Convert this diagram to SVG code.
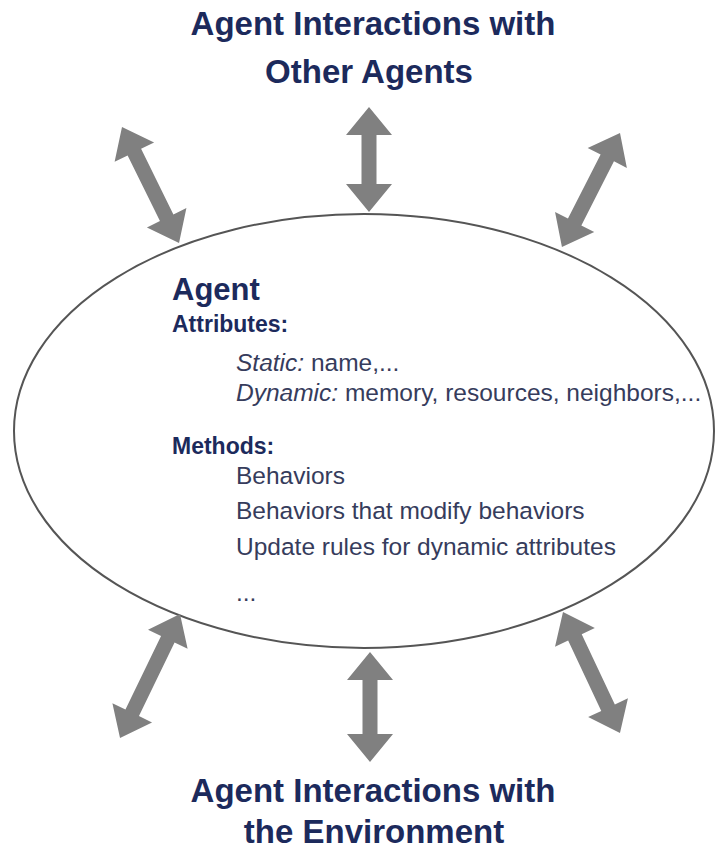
<svg xmlns="http://www.w3.org/2000/svg" width="715" height="852" viewBox="0 0 715 852">
<style>
.title{font-family:"Liberation Sans",Arial,sans-serif;font-weight:bold;font-size:33px;fill:#1c2a5c;text-anchor:middle}
.hd{font-family:"Liberation Sans",Arial,sans-serif;font-weight:bold;fill:#1c2a5c}
.tx{font-family:"Liberation Sans",Arial,sans-serif;font-size:24.5px;fill:#363c5c}
.arr{fill:#808080;stroke:none}
</style>
<rect width="715" height="852" fill="#ffffff"/>
<g id="title-top">
<text class="title" x="373" y="35">Agent Interactions with</text>
<text class="title" x="369" y="83">Other Agents</text>
</g>
<g id="agent">
<ellipse cx="364" cy="431" rx="350" ry="217" fill="#ffffff" stroke="#555555" stroke-width="2"/>
<text class="hd" x="172" y="300" font-size="31">Agent</text>
<text class="hd" x="172" y="332" font-size="23">Attributes:</text>
<text class="tx" x="236" y="371"><tspan font-style="italic">Static:</tspan> name,...</text>
<text class="tx" x="236" y="401"><tspan font-style="italic">Dynamic:</tspan> memory, resources, neighbors,...</text>
<text class="hd" x="172" y="454" font-size="23">Methods:</text>
<text class="tx" x="236" y="484">Behaviors</text>
<text class="tx" x="236" y="519">Behaviors that modify behaviors</text>
<text class="tx" x="236" y="555">Update rules for dynamic attributes</text>
<text class="tx" x="236" y="601">...</text>
</g>
<g id="connectors">
<path class="arr" transform="translate(122,127) rotate(63.8)" d="M0,0 L28,-22 L28,-7.5 L101.2,-7.5 L101.2,-22 L129.2,0 L101.2,22 L101.2,7.5 L28,7.5 L28,22 Z"/>
<path class="arr" transform="translate(369,107) rotate(90)" d="M0,0 L28,-23 L28,-7.5 L77,-7.5 L77,-23 L105,0 L77,23 L77,7.5 L28,7.5 L28,23 Z"/>
<path class="arr" transform="translate(620,133) rotate(117)" d="M0,0 L28,-22 L28,-7.5 L99.9,-7.5 L99.9,-22 L127.9,0 L99.9,22 L99.9,7.5 L28,7.5 L28,22 Z"/>
<path class="arr" transform="translate(180,614) rotate(115.8)" d="M0,0 L28,-22 L28,-7.5 L109.8,-7.5 L109.8,-22 L137.8,0 L109.8,22 L109.8,7.5 L28,7.5 L28,22 Z"/>
<path class="arr" transform="translate(370,652) rotate(90)" d="M0,0 L28,-23 L28,-7.5 L82,-7.5 L82,-23 L110,0 L82,23 L82,7.5 L28,7.5 L28,23 Z"/>
<path class="arr" transform="translate(563,612) rotate(64.8)" d="M0,0 L28,-22 L28,-7.5 L105.8,-7.5 L105.8,-22 L133.8,0 L105.8,22 L105.8,7.5 L28,7.5 L28,22 Z"/>
</g>
<g id="title-bottom">
<text class="title" x="373" y="802">Agent Interactions with</text>
<text class="title" x="374" y="843">the Environment</text>
</g>
</svg>
